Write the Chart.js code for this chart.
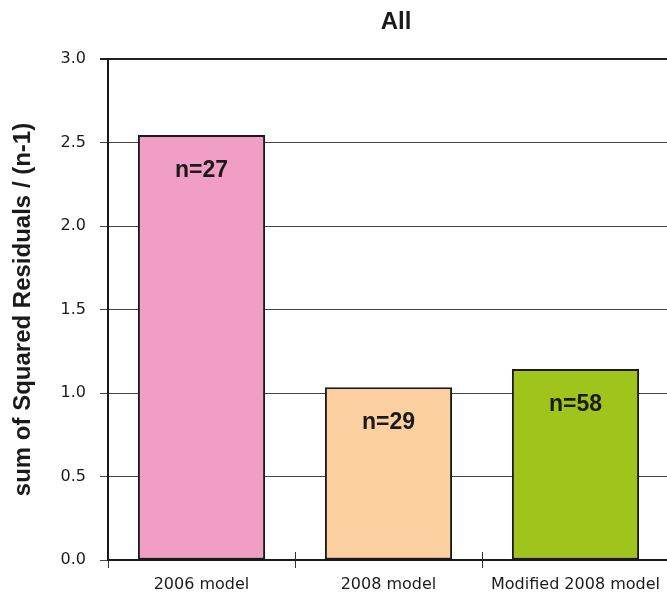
<!DOCTYPE html>
<html>
<head>
<meta charset="utf-8">
<script src="https://cdn.jsdelivr.net/npm/chart.js@4"></script>
<style>
  html, body { margin: 0; padding: 0; background: #fff; overflow: hidden; }
  #wrap { width: 669px; height: 595px; }
</style>
</head>
<body>
<div id="wrap"><canvas id="chart" width="669" height="595"></canvas></div>
<script>
const categories = ['2006 model', '2008 model', 'Modified 2008 model']
const values = [2.545, 1.035, 1.143]
const counts = ['n=27', 'n=29', 'n=58']
const barColors = ['#F19EC5', '#FBCF9F', '#A0C41C']
const yTicks = [0, 0.5, 1.0, 1.5, 2.0, 2.5, 3.0]

// draws the n= labels, the title and the small ticks across the x axis
const extras = {
  id: 'extras',
  afterDatasetsDraw(chart) {
    const ctx = chart.ctx
    const meta = chart.getDatasetMeta(0)
    ctx.save()
    ctx.fillStyle = '#1a1a1a'
    ctx.font = 'bold 23px "Liberation Sans", Arial, sans-serif'
    ctx.textAlign = 'center'
    ctx.textBaseline = 'middle'
    meta.data.forEach((bar, i) => {
      ctx.fillText(counts[i], bar.x, bar.y + 36)
    })
    ctx.restore()
  },
  afterDraw(chart) {
    const ctx = chart.ctx
    const x = chart.scales.x
    const bottom = chart.chartArea.bottom
    ctx.save()
    ctx.strokeStyle = '#333'
    ctx.lineWidth = 1
    for (let i = 0; i < categories.length - 1; i++) {
      const px = Math.round((x.getPixelForValue(i) + x.getPixelForValue(i + 1)) / 2) + 0.5
      ctx.beginPath()
      ctx.moveTo(px, bottom - 8)
      ctx.lineTo(px, bottom)
      ctx.stroke()
    }
    ctx.fillStyle = '#1a1a1a'
    ctx.font = 'bold 24px "Liberation Sans", Arial, sans-serif'
    ctx.textAlign = 'center'
    ctx.textBaseline = 'middle'
    ctx.fillText('All', 396, 22)
    ctx.restore()
  },
}

new Chart(document.getElementById('chart'), {
  type: 'bar',
  data: {
    labels: categories,
    datasets: [
      {
        data: values,
        backgroundColor: barColors,
        borderColor: '#1a1a1a',
        borderWidth: 2,
        borderSkipped: false,
        categoryPercentage: 1,
        barPercentage: 0.68,
      },
    ],
  },
  options: {
    responsive: false,
    animation: false,
    layout: { padding: { top: 59, right: 0, bottom: 0, left: 0 } },
    plugins: {
      legend: { display: false },
      tooltip: { enabled: false },
      title: { display: false },
    },
    scales: {
      x: {
        afterFit: (scale) => { scale.height = 35 },
        grid: {
          offset: true,
          drawOnChartArea: false,
          tickLength: 8,
          color: '#333',
        },
        border: { color: '#1a1a1a', width: 2 },
        ticks: {
          color: '#1a1a1a',
          padding: 7,
          maxRotation: 0,
          font: { family: '"DejaVu Sans", sans-serif', size: 16 },
        },
      },
      y: {
        min: 0,
        max: 3,
        afterFit: (scale) => { scale.width = 108 },
        afterBuildTicks: (scale) => {
          scale.ticks = yTicks.map((v) => ({ value: v }))
        },
        grid: {
          color: (c) => (c.tick && c.tick.value === 3 ? '#222' : '#444'),
          lineWidth: (c) => (c.tick && c.tick.value === 3 ? 2 : 1),
          tickLength: 8,
        },
        border: { color: '#1a1a1a', width: 2 },
        ticks: {
          color: '#1a1a1a',
          padding: 14,
          callback: (v) => Number(v).toFixed(1),
          font: { family: '"DejaVu Sans", sans-serif', size: 16 },
        },
        title: {
          display: true,
          text: 'sum of Squared Residuals / (n-1)',
          color: '#1a1a1a',
          padding: { top: 9, bottom: 0 },
          font: { family: '"Liberation Sans", Arial, sans-serif', size: 24, weight: 'bold' },
        },
      },
    },
  },
  plugins: [extras],
})
</script>
</body>
</html>
